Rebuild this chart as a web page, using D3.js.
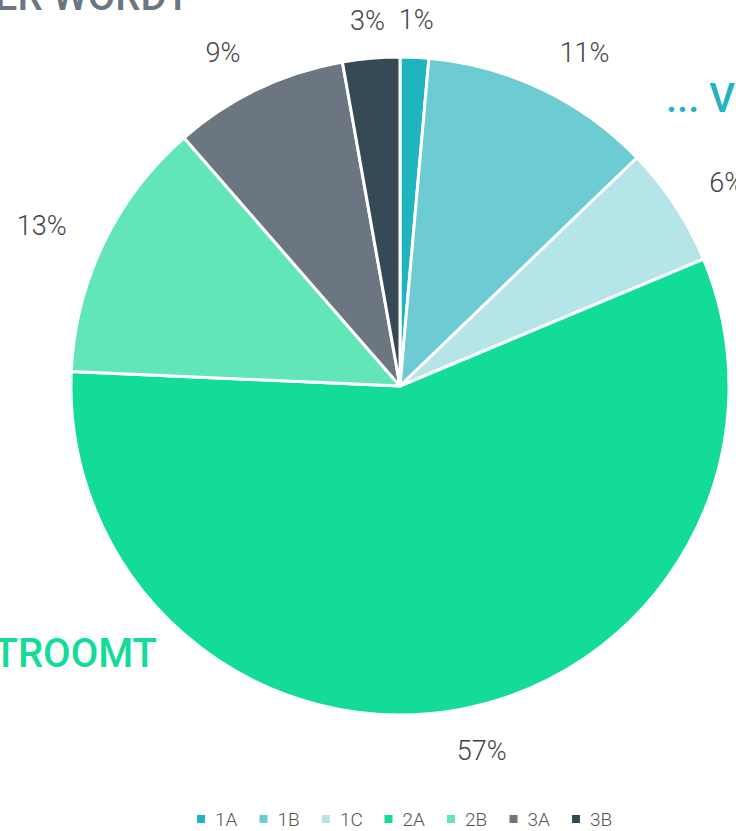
<!DOCTYPE html>
<html>
<head>
<meta charset="utf-8">
<script src="https://cdn.jsdelivr.net/npm/d3@7"></script>
<style>
  html, body { margin: 0; padding: 0; background: #fff; }
  svg { display: block; font-family: Roboto, "Noto Sans", sans-serif; }
</style>
</head>
<body>
<div id="chart"></div>
<script>
// slice data, clockwise from 12 o'clock
const categories = ["1A", "1B", "1C", "2A", "2B", "3A", "3B"];
const shares = [1.4, 11.4, 5.9, 57.0, 12.9, 8.6, 2.8];
const pctLabels = ["1%", "11%", "6%", "57%", "13%", "9%", "3%"];
const colors = ["#1fb4c0", "#6ccbd3", "#b5e5e8", "#12dc98", "#62e6b8", "#6c7680", "#364a55"];

const W = 736, H = 831;
const CX = 400, CY = 386, R = 329, LABEL_R = 370;

const svg = d3.select("#chart")
  .append("svg")
  .attr("width", W)
  .attr("height", H);

// cropped annotation titles from the surrounding layout
svg.append("text")
  .attr("x", 190).attr("y", 10)
  .attr("text-anchor", "end")
  .style("font-size", "40px").style("font-weight", 500)
  .style("fill", "#6c7680")
  .text("ER WORDT");

svg.append("text")
  .attr("x", 666).attr("y", 112)
  .style("font-size", "40px").style("font-weight", 500)
  .style("fill", "#1fb4c0")
  .text("... V");

svg.append("text")
  .attr("x", 157).attr("y", 667)
  .attr("text-anchor", "end")
  .style("font-size", "40px").style("font-weight", 500)
  .style("fill", "#12dc98")
  .text("TROOMT");

const pie = d3.pie().sort(null).value((d) => d.value);
const arcs = pie(categories.map((c, i) => ({ cat: c, value: shares[i], label: pctLabels[i], color: colors[i] })));

const arc = d3.arc().innerRadius(0).outerRadius(R);

const g = svg.append("g").attr("transform", `translate(${CX},${CY})`);

g.selectAll(".slice")
  .data(arcs)
  .enter()
  .append("path")
  .attr("class", "slice")
  .attr("d", arc)
  .style("fill", (d) => d.data.color)
  .style("stroke", "#fff")
  .style("stroke-width", 3)
  .style("stroke-linejoin", "round");

// percentage labels outside the pie
g.selectAll(".pct")
  .data(arcs)
  .enter()
  .append("text")
  .attr("class", "pct")
  .each(function (d) {
    const a = (d.startAngle + d.endAngle) / 2;
    const s = Math.sin(a);
    const x = LABEL_R * s;
    const y = -LABEL_R * Math.cos(a);
    // near the top the labels sit centred on the angle
    const anchor = Math.abs(s) < 0.12 ? "middle" : s >= 0 ? "start" : "end";
    d3.select(this)
      .attr("x", anchor === "start" && y > 0 ? x - 8 : x)
      .attr("y", Math.abs(s) < 0.12 ? y + 3 : y)
      .attr("dy", "0.35em")
      .attr("text-anchor", anchor);
  })
  .style("font-size", "27px")
  .style("font-weight", 300)
  .style("fill", "#444")
  .text((d) => d.data.label);

// legend
const legendX = d3.scalePoint().domain(categories).range([197, 572]);

const legend = svg.append("g")
  .selectAll(".legend")
  .data(categories)
  .enter()
  .append("g")
  .attr("class", "legend")
  .attr("transform", (d) => `translate(${legendX(d)}, 819)`);

legend.append("rect")
  .attr("x", 0).attr("y", -4)
  .attr("width", 8).attr("height", 8)
  .style("fill", (d, i) => colors[i]);

legend.append("text")
  .attr("x", 18)
  .attr("dy", "0.36em")
  .style("font-size", "19px")
  .style("font-weight", 300)
  .style("fill", "#555")
  .text((d) => d);
</script>
</body>
</html>
